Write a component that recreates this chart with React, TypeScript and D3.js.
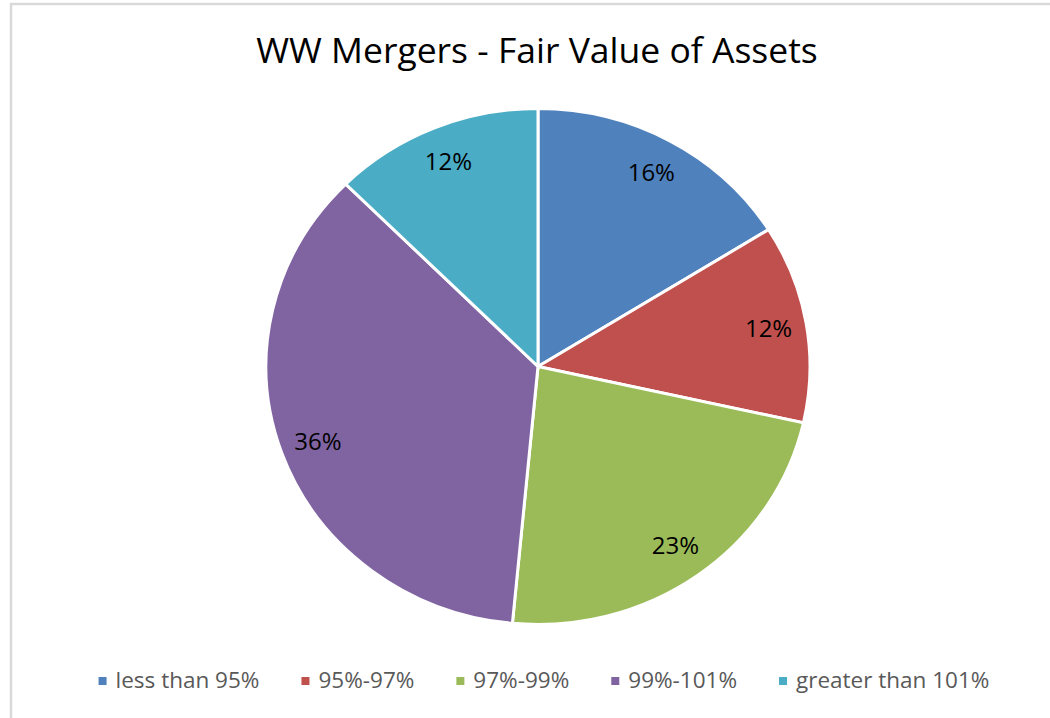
import React, { useRef, useEffect } from 'react';
import * as d3 from 'd3';

const categories = ['less than 95%', '95%-97%', '97%-99%', '99%-101%', 'greater than 101%'];
const shares = [16.1, 12.4, 23.0, 36.0, 12.5];
const labels = ['16%', '12%', '23%', '36%', '12%'];
const colors = ['#4F81BD', '#C0504D', '#9BBB59', '#8064A2', '#4BACC6'];
const title = 'WW Mergers - Fair Value of Assets';

export default function App() {
  const svgRef = useRef<SVGSVGElement>(null);

  useEffect(() => {
    const svg = d3.select(svgRef.current);
    svg.selectAll('*').remove();
    const width = 1050;
    const height = 718;
    const font = 'Open Sans, sans-serif';

    // chart frame
    svg.append('rect')
      .attr('x', 11).attr('y', 4)
      .attr('width', width).attr('height', height + 20)
      .attr('fill', '#fff')
      .attr('stroke', '#d9d9d9')
      .attr('stroke-width', 2.5);

    svg.append('text')
      .attr('x', 537).attr('y', 63)
      .attr('text-anchor', 'middle')
      .attr('font-family', font)
      .attr('font-size', 35.5)
      .attr('fill', '#000')
      .text(title);

    // pie is a little wider than tall in the reference
    const cx = 538, cy = 366.5, r = 258, sx = 272 / 258;
    const pie = d3.pie<number>().sort(null).value(d => d);
    const arcs = pie(shares);
    const arc = d3.arc<d3.PieArcDatum<number>>().innerRadius(0).outerRadius(r);
    const labelArc = d3.arc<d3.PieArcDatum<number>>().innerRadius(r * 0.86).outerRadius(r * 0.86);

    const g = svg.append('g').attr('transform', `translate(${cx},${cy})`);
    g.append('g').attr('transform', `scale(${sx},1)`)
      .selectAll('path')
      .data(arcs)
      .join('path')
      .attr('d', arc)
      .attr('fill', (_, i) => colors[i])
      .attr('stroke', '#fff')
      .attr('stroke-width', 3)
      .attr('vector-effect', 'non-scaling-stroke');

    g.selectAll('text.lbl')
      .data(arcs)
      .join('text')
      .attr('class', 'lbl')
      .attr('x', d => labelArc.centroid(d)[0] * sx)
      .attr('y', d => labelArc.centroid(d)[1])
      .attr('dy', '0.35em')
      .attr('text-anchor', 'middle')
      .attr('font-family', font)
      .attr('font-size', 24)
      .attr('fill', '#000')
      .text((_, i) => labels[i]);

    // legend, laid out from measured text widths
    const legend = svg.append('g');
    const items = legend.selectAll('g')
      .data(categories)
      .join('g');
    items.append('rect')
      .attr('width', 8).attr('height', 8)
      .attr('y', -11)
      .attr('fill', (_, i) => colors[i]);
    items.append('text')
      .attr('x', 17)
      .attr('font-family', font)
      .attr('font-size', 22.5)
      .attr('fill', '#595959')
      .text(d => d);
    let x = 0;
    const gap = 42;
    items.each(function () {
      const t = d3.select(this).select('text').node() as SVGTextElement;
      d3.select(this).attr('transform', `translate(${x},0)`);
      x += 17 + t.getComputedTextLength() + gap;
    });
    const total = x - gap;
    legend.attr('transform', `translate(${544 - total / 2},688)`);
  }, []);

  return (
    <svg
      ref={svgRef}
      width={1050}
      height={718}
      style={{ position: 'absolute', left: 0, top: 0, background: '#fff' }}
    />
  );
}
